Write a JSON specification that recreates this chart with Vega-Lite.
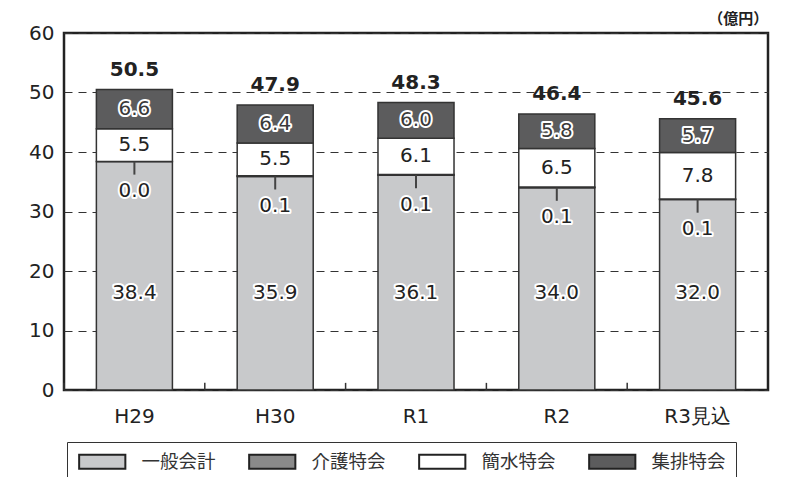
{
  "$schema": "https://vega.github.io/schema/vega-lite/v6.json",
  "width": 704,
  "height": 357,
  "autosize": {"type": "none"},
  "padding": {"left": 64, "top": 33, "right": 30, "bottom": 87},
  "data": {
    "values": [
      {"year": "H29", "cat": "一般会計", "value": 38.4},
      {"year": "H29", "cat": "介護特会", "value": 0.0},
      {"year": "H29", "cat": "簡水特会", "value": 5.5},
      {"year": "H29", "cat": "集排特会", "value": 6.6},
      {"year": "H30", "cat": "一般会計", "value": 35.9},
      {"year": "H30", "cat": "介護特会", "value": 0.1},
      {"year": "H30", "cat": "簡水特会", "value": 5.5},
      {"year": "H30", "cat": "集排特会", "value": 6.4},
      {"year": "R1", "cat": "一般会計", "value": 36.1},
      {"year": "R1", "cat": "介護特会", "value": 0.1},
      {"year": "R1", "cat": "簡水特会", "value": 6.1},
      {"year": "R1", "cat": "集排特会", "value": 6.0},
      {"year": "R2", "cat": "一般会計", "value": 34.0},
      {"year": "R2", "cat": "介護特会", "value": 0.1},
      {"year": "R2", "cat": "簡水特会", "value": 6.5},
      {"year": "R2", "cat": "集排特会", "value": 5.8},
      {"year": "R3見込", "cat": "一般会計", "value": 32.0},
      {"year": "R3見込", "cat": "介護特会", "value": 0.1},
      {"year": "R3見込", "cat": "簡水特会", "value": 7.8},
      {"year": "R3見込", "cat": "集排特会", "value": 5.7}
    ]
  },
  "transform": [
    {"calculate": "indexof(['一般会計','介護特会','簡水特会','集排特会'], datum.cat)", "as": "k"},
    {"stack": "value", "groupby": ["year"], "sort": [{"field": "k", "order": "ascending"}], "as": ["v0", "v1"]},
    {"calculate": "datum.cat === '一般会計' ? 16.3 : datum.cat === '介護特会' ? datum.v0 - 5 : (datum.v0 + datum.v1) / 2", "as": "ly"},
    {"calculate": "datum.v0 - 2.2", "as": "lead"}
  ],
  "encoding": {
    "x": {
      "field": "year", "type": "nominal", "sort": null,
      "scale": {"paddingInner": 0.46, "paddingOuter": 0.23},
      "axis": {"title": null, "labelAngle": 0, "labelFont": "DejaVu Sans", "labelFontSize": 20, "labelColor": "#222", "labelPadding": 16, "domain": false, "ticks": false, "grid": false}
    }
  },
  "layer": [
    {
      "mark": {"type": "bar", "stroke": "#333", "strokeWidth": 1.5},
      "encoding": {
        "y": {"field": "v0", "type": "quantitative", "scale": {"domain": [0, 60], "nice": false},
          "axis": {"title": null, "values": [0, 10, 20, 30, 40, 50, 60], "labelFont": "DejaVu Sans", "labelFontSize": 20, "labelColor": "#222", "labelPadding": 10, "ticks": false, "domain": false, "grid": true, "gridDash": [8, 6], "gridColor": "#333", "gridWidth": 1}},
        "y2": {"field": "v1"},
        "fill": {
          "field": "cat", "type": "nominal",
          "scale": {"domain": ["一般会計", "介護特会", "簡水特会", "集排特会"], "range": ["#c8c9cb", "#8a8a8a", "#ffffff", "#5c5c5d"]},
          "legend": {"title": null, "orient": "none", "legendX": 3, "legendY": 409, "direction": "horizontal",
            "symbolType": "M-3.3,-1H3.3V1H-3.3Z", "symbolSize": 196, "symbolOffset": 16, "symbolStrokeColor": "#222", "symbolStrokeWidth": 2, "symbolOpacity": 1,
            "labelFont": "Noto Sans CJK JP", "labelFontSize": 18.5, "labelFontWeight": "normal", "labelColor": "#333", "labelOffset": 30, "columnPadding": 29, "padding": 10, "strokeColor": "#333", "labelLimit": 200}
        }
      }
    },
    {
      "transform": [{"filter": "datum.cat === '一般会計'"}],
      "mark": {"type": "rule", "stroke": "#333", "strokeWidth": 1.5},
      "encoding": {"x": {"field": "year", "type": "nominal", "sort": null, "bandPosition": -0.426}, "y": {"datum": 0, "type": "quantitative"}, "y2": {"datum": 1.2}}
    },
    {
      "transform": [{"filter": "datum.cat === '介護特会'"}],
      "mark": {"type": "rule", "stroke": "#444", "strokeWidth": 2},
      "encoding": {"y": {"field": "v0", "type": "quantitative"}, "y2": {"field": "lead"}}
    },
    {
      "mark": {"type": "text", "font": "DejaVu Sans", "fontSize": 20, "stroke": "white", "strokeWidth": 4, "strokeJoin": "round", "fill": "white", "baseline": "middle"},
      "encoding": {"y": {"field": "ly", "type": "quantitative"}, "text": {"field": "value", "type": "quantitative", "format": ".1f"}}
    },
    {
      "mark": {"type": "text", "font": "DejaVu Sans", "fontSize": 20, "baseline": "middle"},
      "encoding": {"y": {"field": "ly", "type": "quantitative"}, "text": {"field": "value", "type": "quantitative", "format": ".1f"},
        "color": {"condition": {"test": "datum.cat === '集排特会'", "value": "#3a3a3a"}, "value": "#222"}}
    },
    {
      "transform": [{"aggregate": [{"op": "sum", "field": "value", "as": "total"}], "groupby": ["year"]}],
      "mark": {"type": "text", "font": "DejaVu Sans", "fontSize": 20, "fontWeight": "bold", "baseline": "middle", "dy": -20, "color": "#222"},
      "encoding": {"y": {"field": "total", "type": "quantitative"}, "text": {"field": "total", "type": "quantitative", "format": ".1f"}}
    },
    {
      "data": {"values": [{"unit": "（億円）"}]},
      "mark": {"type": "text", "font": "Noto Sans CJK JP", "fontSize": 15, "fontWeight": "bold", "align": "right", "baseline": "middle", "color": "#222"},
      "encoding": {
        "x": {"datum": "R3見込", "type": "nominal", "bandPosition": 1.43},
        "y": {"datum": 62.3, "type": "quantitative"},
        "text": {"field": "unit"}
      }
    }
  ],
  "config": {"view": {"stroke": "#222", "strokeWidth": 2.5}}
}
